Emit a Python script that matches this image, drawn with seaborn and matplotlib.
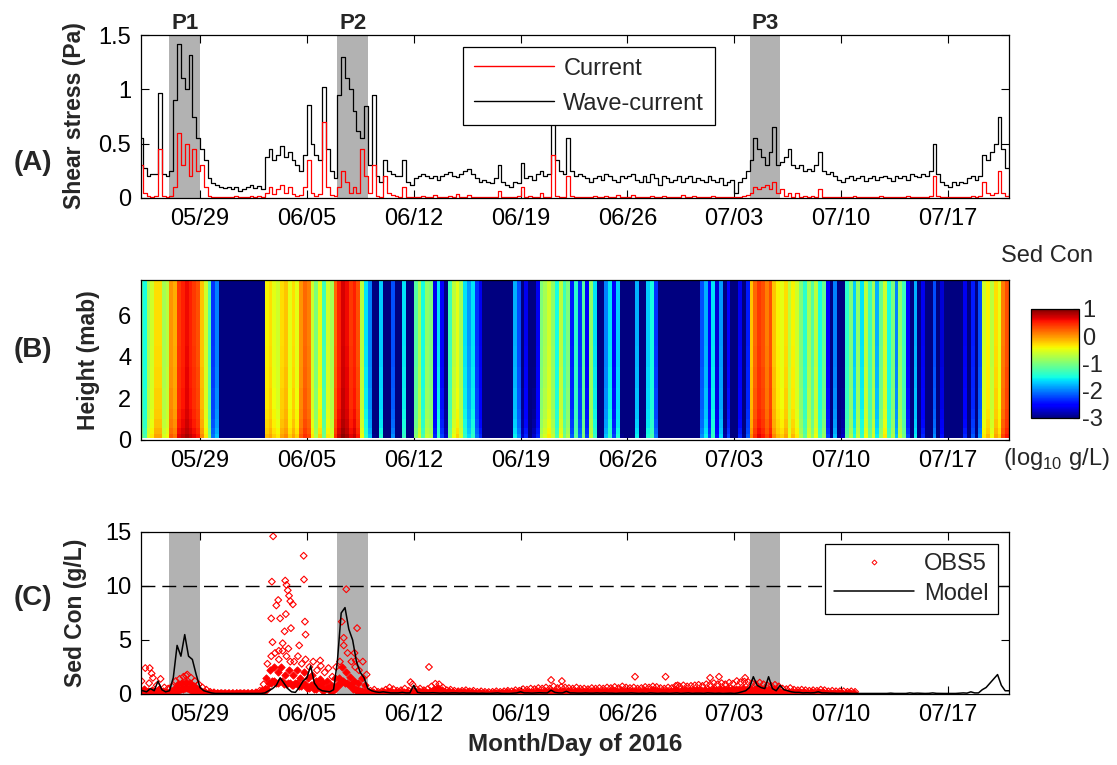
import numpy as np
import pandas as pd
import seaborn as sns
import matplotlib.pyplot as plt
import matplotlib.dates as mdates
from matplotlib.lines import Line2D

# ---------------- data ----------------
# all series are 6-hourly starting 2016-05-25 00:00 (4 values per day)
t_start = "2016-05-25 00:00"

# (A) bed shear stress, Pa
wave_current = [
    0.55, 0.28, 0.20, 0.22,  0.22, 0.97, 0.22, 0.20,   # 05/25 05/26
    0.25, 0.90, 1.42, 1.10,  1.00, 1.32, 0.75, 0.55,   # 05/27 05/28
    0.45, 0.35, 0.18, 0.14,  0.12, 0.10, 0.09, 0.10,   # 05/29 05/30
    0.08, 0.10, 0.06, 0.08,  0.10, 0.12, 0.09, 0.11,   # 05/31 06/01
    0.08, 0.38, 0.45, 0.35,  0.40, 0.48, 0.38, 0.42,   # 06/02 06/03
    0.35, 0.30, 0.25, 0.40,  0.86, 0.50, 0.40, 0.35,   # 06/04 06/05
    1.02, 0.45, 0.25, 0.18,  0.95, 1.30, 1.10, 1.00,   # 06/06 06/07
    0.80, 0.62, 0.55, 0.85,  0.30, 0.95, 0.20, 0.15,   # 06/08 06/09
    0.35, 0.25, 0.22, 0.20,  0.20, 0.35, 0.15, 0.12,   # 06/10 06/11
    0.18, 0.20, 0.22, 0.20,  0.18, 0.20, 0.17, 0.20,   # 06/12 06/13
    0.22, 0.24, 0.20, 0.19,  0.22, 0.25, 0.27, 0.22,   # 06/14 06/15
    0.18, 0.15, 0.17, 0.15,  0.14, 0.18, 0.30, 0.15,   # 06/16 06/17
    0.12, 0.10, 0.15, 0.14,  0.32, 0.18, 0.20, 0.17,   # 06/18 06/19
    0.22, 0.25, 0.20, 0.22,  0.70, 0.35, 0.25, 0.22,   # 06/20 06/21
    0.55, 0.25, 0.20, 0.22,  0.20, 0.18, 0.15, 0.18,   # 06/22 06/23
    0.20, 0.17, 0.22, 0.20,  0.17, 0.15, 0.20, 0.18,   # 06/24 06/25
    0.20, 0.22, 0.17, 0.15,  0.20, 0.15, 0.22, 0.18,   # 06/26 06/27
    0.12, 0.20, 0.18, 0.15,  0.17, 0.20, 0.15, 0.18,   # 06/28 06/29
    0.20, 0.15, 0.18, 0.17,  0.15, 0.20, 0.17, 0.15,   # 06/30 07/01
    0.18, 0.12, 0.15, 0.17,  0.05, 0.15, 0.18, 0.25,   # 07/02 07/03
    0.35, 0.55, 0.45, 0.38,  0.30, 0.42, 0.65, 0.30,   # 07/04 07/05
    0.33, 0.38, 0.45, 0.30,  0.28, 0.30, 0.25, 0.27,   # 07/06 07/07
    0.25, 0.30, 0.42, 0.25,  0.22, 0.24, 0.20, 0.17,   # 07/08 07/09
    0.15, 0.18, 0.20, 0.17,  0.18, 0.20, 0.16, 0.18,   # 07/10 07/11
    0.20, 0.17, 0.19, 0.20,  0.18, 0.16, 0.20, 0.18,   # 07/12 07/13
    0.20, 0.17, 0.22, 0.20,  0.19, 0.22, 0.20, 0.25,   # 07/14 07/15
    0.50, 0.22, 0.15, 0.12,  0.10, 0.15, 0.12, 0.15,   # 07/16 07/17
    0.14, 0.18, 0.20, 0.17,  0.20, 0.40, 0.35, 0.42,   # 07/18 07/19
    0.50, 0.75, 0.45, 0.28,  0.28,                     # 07/20 07/21
]
current = [
    0.30, 0.05, 0.02, 0.01,  0.02, 0.45, 0.02, 0.01,   # 05/25 05/26
    0.02, 0.10, 0.60, 0.30,  0.50, 0.20, 0.45, 0.25,   # 05/27 05/28
    0.30, 0.10, 0.02, 0.01,  0.01, 0.01, 0.01, 0.01,   # 05/29 05/30
    0.01, 0.02, 0.01, 0.01,  0.01, 0.02, 0.01, 0.02,   # 05/31 06/01
    0.01, 0.05, 0.10, 0.04,  0.08, 0.12, 0.05, 0.10,   # 06/02 06/03
    0.04, 0.02, 0.03, 0.10,  0.35, 0.05, 0.02, 0.04,   # 06/04 06/05
    0.70, 0.10, 0.03, 0.02,  0.10, 0.25, 0.15, 0.05,   # 06/06 06/07
    0.10, 0.05, 0.45, 0.20,  0.05, 0.30, 0.02, 0.01,   # 06/08 06/09
    0.20, 0.05, 0.03, 0.02,  0.01, 0.10, 0.01, 0.01,   # 06/10 06/11
    0.01, 0.01, 0.02, 0.01,  0.01, 0.03, 0.01, 0.01,   # 06/12 06/13
    0.01, 0.02, 0.01, 0.04,  0.01, 0.01, 0.03, 0.01,   # 06/14 06/15
    0.01, 0.01, 0.01, 0.01,  0.01, 0.01, 0.06, 0.01,   # 06/16 06/17
    0.01, 0.01, 0.01, 0.02,  0.10, 0.01, 0.02, 0.01,   # 06/18 06/19
    0.01, 0.05, 0.01, 0.01,  0.40, 0.02, 0.01, 0.01,   # 06/20 06/21
    0.20, 0.02, 0.01, 0.01,  0.01, 0.01, 0.01, 0.02,   # 06/22 06/23
    0.01, 0.01, 0.02, 0.01,  0.01, 0.03, 0.01, 0.01,   # 06/24 06/25
    0.01, 0.03, 0.01, 0.01,  0.01, 0.01, 0.02, 0.01,   # 06/26 06/27
    0.01, 0.02, 0.01, 0.01,  0.01, 0.01, 0.03, 0.01,   # 06/28 06/29
    0.01, 0.02, 0.01, 0.01,  0.01, 0.01, 0.02, 0.01,   # 06/30 07/01
    0.01, 0.01, 0.01, 0.01,  0.01, 0.01, 0.02, 0.03,   # 07/02 07/03
    0.05, 0.10, 0.08, 0.10,  0.12, 0.08, 0.15, 0.05,   # 07/04 07/05
    0.08, 0.02, 0.05, 0.01,  0.05, 0.01, 0.02, 0.01,   # 07/06 07/07
    0.02, 0.01, 0.08, 0.01,  0.01, 0.01, 0.01, 0.01,   # 07/08 07/09
    0.01, 0.01, 0.01, 0.02,  0.01, 0.01, 0.01, 0.01,   # 07/10 07/11
    0.01, 0.01, 0.02, 0.01,  0.01, 0.01, 0.01, 0.01,   # 07/12 07/13
    0.01, 0.02, 0.01, 0.01,  0.01, 0.01, 0.01, 0.02,   # 07/14 07/15
    0.20, 0.02, 0.01, 0.01,  0.01, 0.01, 0.01, 0.01,   # 07/16 07/17
    0.01, 0.01, 0.02, 0.01,  0.02, 0.15, 0.05, 0.03,   # 07/18 07/19
    0.05, 0.25, 0.05, 0.02,  0.05,                     # 07/20 07/21
]

# (B) log10 sediment concentration above the near-bed layer (one column per 6 h)
sed_log = [
    -1.2, -1.5, -0.8, -0.6,  -0.3, -0.3, -0.8, -0.7,   # 05/25 05/26
     0.0, -0.1,  0.4,  0.5,   0.6,  0.5,  0.4,  0.3,   # 05/27 05/28
    -0.2, -0.6, -1.2, -2.3,  -2.0, -3.5, -3.5, -3.5,   # 05/29 05/30
    -3.5, -3.5, -3.5, -3.5,  -3.5, -3.5, -3.5, -3.5,   # 05/31 06/01
    -3.5, -0.4, -0.3, -0.5,  -0.6, -0.3, -0.2, -0.5,   # 06/02 06/03
    -0.3, -0.5,  0.0,  0.2,   0.1, -0.6, -1.0, -0.5,   # 06/04 06/05
    -1.3, -0.6, -0.8,  0.2,   0.5,  0.7,  0.6,  0.4,   # 06/06 06/07
     0.5,  0.3, -0.7, -1.6,  -2.0, -3.2, -3.4, -1.7,   # 06/08 06/09
    -3.3, -3.3, -2.2, -3.3,  -3.3, -1.6, -3.3, -3.3,   # 06/10 06/11
    -1.2, -0.8, -1.5, -0.9,  -1.0, -2.6, -1.6, -2.5,   # 06/12 06/13
    -3.0, -1.3, -0.7, -0.5,  -0.8, -1.6, -1.9, -1.6,   # 06/14 06/15
    -2.3, -2.6, -3.3, -3.4,  -3.4, -3.4, -3.4, -3.4,   # 06/16 06/17
    -3.4, -3.4, -1.8, -2.2,  -3.0, -2.6, -3.3, -3.0,   # 06/18 06/19
    -2.6, -1.0, -0.8, -0.6,  -0.9, -1.5, -0.7, -1.3,   # 06/20 06/21
    -1.0, -2.4, -1.4, -2.3,  -1.2, -2.5, -0.9, -1.6,   # 06/22 06/23
    -3.3, -3.3, -2.0, -1.6,  -2.5, -1.7, -3.2, -3.3,   # 06/24 06/25
    -3.3, -3.3, -1.8, -3.3,  -3.2, -1.7, -1.5, -2.3,   # 06/26 06/27
    -3.4, -3.4, -3.4, -3.4,  -3.4, -3.4, -3.4, -3.4,   # 06/28 06/29
    -3.4, -3.4, -3.3, -2.2,  -1.8, -2.5, -1.6, -2.7,   # 06/30 07/01
    -1.9, -3.1, -2.5, -3.3,  -3.3, -2.6, -3.2, -2.4,   # 07/02 07/03
    -0.2,  0.2,  0.4,  0.3,   0.1,  0.3, -0.2, -0.4,   # 07/04 07/05
    -0.5, -0.3, -0.7, -0.4,  -0.6, -1.0, -1.4, -0.8,   # 07/06 07/07
    -1.2, -0.7, -1.5, -1.1,  -2.5, -3.2, -2.0, -3.2,   # 07/08 07/09
    -3.0, -1.4, -1.0, -1.7,  -0.9, -1.6, -0.7, -1.3,   # 07/10 07/11
    -0.8, -1.8, -1.1, -0.6,  -1.5, -1.0, -2.0, -0.9,   # 07/12 07/13
    -1.3, -2.5, -3.3, -1.8,  -3.3, -2.6, -3.3, -3.3,   # 07/14 07/15
    -2.2, -3.3, -2.7, -3.3,  -3.4, -3.4, -3.4, -3.3,   # 07/16 07/17
    -2.6, -3.3, -2.4, -3.2,  -2.2, -0.6, -0.4, -0.7,   # 07/18 07/19
    -0.3, -0.5,  0.1,  0.3,                            # 07/20
]
height_edges = [0.1, 0.3, 0.6, 1.0, 1.5, 2.5, 3.5, 4.5, 5.5, 6.5, 7.7]   # mab
near_bed_boost = [0.25, 0.18, 0.12, 0.08, 0.05, 0.03, 0.01, 0.0, 0.0, 0.0]

# (C) modelled concentration, g/L
model = [
    0.40, 0.30, 0.20, 0.50,  0.30, 1.20, 0.40, 0.20,   # 05/25 05/26
    0.30, 1.50, 4.50, 3.50,  5.50, 3.50, 3.20, 1.80,   # 05/27 05/28
    0.60, 0.30, 0.20, 0.10,  0.05, 0.05, 0.05, 0.05,   # 05/29 05/30
    0.05, 0.05, 0.05, 0.05,  0.05, 0.05, 0.05, 0.05,   # 05/31 06/01
    0.05, 0.10, 0.30, 0.50,  0.80, 1.50, 1.00, 0.50,   # 06/02 06/03
    0.20, 0.15, 0.60, 1.20,  1.50, 2.60, 1.00, 0.50,   # 06/04 06/05
    0.30, 0.25, 0.20, 0.40,  3.00, 7.50, 8.00, 6.00,   # 06/06 06/07
    5.00, 3.00, 2.00, 1.50,  0.50, 0.30, 0.20, 0.15,   # 06/08 06/09
    0.20, 0.15, 0.10, 0.10,  0.10, 0.15, 0.10, 0.10,   # 06/10 06/11
    0.80, 0.15, 0.10, 0.10,  0.10, 0.12, 0.10, 0.08,   # 06/12 06/13
    0.10, 0.08, 0.10, 0.10,  0.08, 0.10, 0.08, 0.08,   # 06/14 06/15
    0.08, 0.06, 0.08, 0.06,  0.06, 0.08, 0.10, 0.06,   # 06/16 06/17
    0.06, 0.05, 0.08, 0.10,  0.20, 0.10, 0.10, 0.08,   # 06/18 06/19
    0.10, 0.12, 0.10, 0.10,  0.35, 0.15, 0.10, 0.10,   # 06/20 06/21
    0.25, 0.10, 0.10, 0.08,  0.08, 0.10, 0.08, 0.08,   # 06/22 06/23
    0.10, 0.08, 0.10, 0.08,  0.08, 0.06, 0.08, 0.08,   # 06/24 06/25
    0.08, 0.10, 0.08, 0.06,  0.08, 0.06, 0.10, 0.08,   # 06/26 06/27
    0.06, 0.08, 0.08, 0.06,  0.08, 0.10, 0.06, 0.08,   # 06/28 06/29
    0.10, 0.06, 0.08, 0.08,  0.06, 0.10, 0.08, 0.06,   # 06/30 07/01
    0.08, 0.05, 0.06, 0.08,  0.05, 0.10, 0.20, 0.30,   # 07/02 07/03
    0.60, 1.60, 0.80, 0.60,  0.50, 1.60, 0.50, 0.30,   # 07/04 07/05
    0.80, 0.40, 0.30, 0.20,  0.15, 0.15, 0.10, 0.12,   # 07/06 07/07
    0.10, 0.12, 0.20, 0.10,  0.10, 0.08, 0.08, 0.06,   # 07/08 07/09
    0.06, 0.08, 0.06, 0.05,  0.05, 0.06, 0.05, 0.05,   # 07/10 07/11
    0.05, 0.05, 0.06, 0.05,  0.05, 0.08, 0.05, 0.05,   # 07/12 07/13
    0.06, 0.05, 0.10, 0.06,  0.08, 0.06, 0.05, 0.06,   # 07/14 07/15
    0.10, 0.06, 0.05, 0.05,  0.05, 0.06, 0.05, 0.08,   # 07/16 07/17
    0.10, 0.08, 0.20, 0.10,  0.10, 0.40, 0.60, 1.00,   # 07/18 07/19
    1.40, 1.80, 0.80, 0.30,  0.30,                     # 07/20 07/21
]

# (C) OBS5 observations: low / middle / high levels of the point cloud (05/25 - 07/10)
obs_lo = [
    0.10, 0.20, 0.15, 0.10,  0.10, 0.20, 0.10, 0.10,   # 05/25 05/26
    0.10, 0.20, 0.40, 0.50,  0.60, 0.50, 0.30, 0.20,   # 05/27 05/28
    0.10, 0.05, 0.05, 0.05,  0.02, 0.02, 0.02, 0.02,   # 05/29 05/30
    0.02, 0.02, 0.02, 0.02,  0.02, 0.02, 0.03, 0.05,   # 05/31 06/01
    0.10, 0.50, 1.00, 1.20,  1.00, 1.20, 0.90, 1.00,   # 06/02 06/03
    0.80, 1.00, 0.70, 0.90,  0.60, 0.80, 0.50, 0.70,   # 06/04 06/05
    0.40, 0.60, 0.30, 0.50,  0.80, 1.20, 1.00, 0.80,   # 06/06 06/07
    0.50, 0.40, 0.30, 0.20,  0.05, 0.05, 0.05, 0.05,   # 06/08 06/09
    0.05, 0.08, 0.05, 0.05,  0.05, 0.08, 0.05, 0.06,   # 06/10 06/11
    0.06, 0.08, 0.06, 0.05,  0.10, 0.20, 0.25, 0.15,   # 06/12 06/13
    0.06, 0.08, 0.06, 0.05,  0.05, 0.06, 0.05, 0.06,   # 06/14 06/15
    0.04, 0.05, 0.04, 0.04,  0.04, 0.05, 0.04, 0.05,   # 06/16 06/17
    0.05, 0.04, 0.06, 0.05,  0.06, 0.05, 0.08, 0.06,   # 06/18 06/19
    0.08, 0.06, 0.10, 0.08,  0.10, 0.08, 0.12, 0.10,   # 06/20 06/21
    0.10, 0.08, 0.10, 0.08,  0.10, 0.08, 0.10, 0.08,   # 06/22 06/23
    0.10, 0.08, 0.12, 0.10,  0.12, 0.10, 0.12, 0.10,   # 06/24 06/25
    0.10, 0.12, 0.10, 0.10,  0.12, 0.10, 0.14, 0.12,   # 06/26 06/27
    0.10, 0.08, 0.12, 0.10,  0.12, 0.10, 0.14, 0.12,   # 06/28 06/29
    0.12, 0.14, 0.15, 0.12,  0.15, 0.14, 0.16, 0.15,   # 06/30 07/01
    0.16, 0.15, 0.18, 0.16,  0.18, 0.16, 0.20, 0.18,   # 07/02 07/03
    0.20, 0.18, 0.22, 0.20,  0.16, 0.15, 0.18, 0.14,   # 07/04 07/05
    0.08, 0.06, 0.08, 0.06,  0.05, 0.06, 0.05, 0.04,   # 07/06 07/07
    0.05, 0.04, 0.06, 0.05,  0.04, 0.04, 0.04, 0.04,   # 07/08 07/09
    0.04, 0.03, 0.04, 0.03,                            # 07/10
]
obs_mid = [
    0.40, 0.50, 0.30, 0.40,  0.30, 0.50, 0.30, 0.20,   # 05/25 05/26
    0.30, 0.60, 0.90, 1.00,  1.10, 1.00, 0.70, 0.50,   # 05/27 05/28
    0.30, 0.20, 0.10, 0.10,  0.05, 0.05, 0.05, 0.05,   # 05/29 05/30
    0.05, 0.05, 0.05, 0.05,  0.05, 0.05, 0.08, 0.10,   # 05/31 06/01
    0.40, 1.50, 2.20, 2.50,  2.00, 2.50, 1.80, 2.20,   # 06/02 06/03
    1.80, 2.20, 1.50, 2.00,  1.50, 1.80, 1.20, 1.40,   # 06/04 06/05
    1.00, 1.20, 0.80, 1.50,  1.50, 2.50, 2.00, 1.60,   # 06/06 06/07
    1.20, 1.00, 1.50, 0.80,  0.10, 0.15, 0.10, 0.10,   # 06/08 06/09
    0.20, 0.25, 0.20, 0.15,  0.15, 0.20, 0.15, 0.20,   # 06/10 06/11
    0.20, 0.25, 0.20, 0.20,  0.30, 0.50, 0.60, 0.40,   # 06/12 06/13
    0.20, 0.25, 0.20, 0.15,  0.15, 0.20, 0.15, 0.20,   # 06/14 06/15
    0.10, 0.12, 0.10, 0.10,  0.10, 0.12, 0.10, 0.12,   # 06/16 06/17
    0.15, 0.12, 0.18, 0.15,  0.20, 0.18, 0.22, 0.20,   # 06/18 06/19
    0.25, 0.22, 0.28, 0.25,  0.30, 0.28, 0.32, 0.30,   # 06/20 06/21
    0.30, 0.25, 0.30, 0.28,  0.30, 0.25, 0.30, 0.28,   # 06/22 06/23
    0.30, 0.28, 0.32, 0.30,  0.35, 0.30, 0.38, 0.32,   # 06/24 06/25
    0.30, 0.32, 0.28, 0.30,  0.35, 0.32, 0.38, 0.35,   # 06/26 06/27
    0.30, 0.28, 0.32, 0.30,  0.35, 0.32, 0.38, 0.35,   # 06/28 06/29
    0.35, 0.38, 0.40, 0.35,  0.40, 0.38, 0.45, 0.40,   # 06/30 07/01
    0.45, 0.42, 0.48, 0.45,  0.50, 0.48, 0.52, 0.50,   # 07/02 07/03
    0.50, 0.45, 0.52, 0.48,  0.40, 0.38, 0.42, 0.35,   # 07/04 07/05
    0.20, 0.18, 0.22, 0.20,  0.15, 0.18, 0.15, 0.12,   # 07/06 07/07
    0.15, 0.12, 0.18, 0.15,  0.10, 0.12, 0.10, 0.10,   # 07/08 07/09
    0.10, 0.08, 0.10, 0.08,                            # 07/10
]
obs_hi = [
    1.20, 2.40, 1.00, 1.50,  0.80, 1.40, 0.60, 0.50,   # 05/25 05/26
    0.70, 1.20, 1.40, 1.60,  1.80, 1.50, 1.20, 0.90,   # 05/27 05/28
    0.60, 0.40, 0.20, 0.15,  0.08, 0.08, 0.08, 0.08,   # 05/29 05/30
    0.08, 0.08, 0.08, 0.08,  0.08, 0.10, 0.15, 0.30,   # 05/31 06/01
    0.90, 2.80, 3.50, 3.80,  3.20, 4.00, 3.50, 3.00,   # 06/02 06/03
    3.00, 3.50, 2.80, 3.20,  2.50, 3.00, 2.20, 2.60,   # 06/04 06/05
    2.00, 2.40, 1.60, 2.50,  3.00, 4.50, 3.80, 3.00,   # 06/06 06/07
    2.50, 2.20, 3.00, 1.80,  0.30, 0.40, 0.20, 0.25,   # 06/08 06/09
    0.40, 0.60, 0.45, 0.30,  0.35, 0.50, 0.30, 0.90,   # 06/10 06/11
    0.45, 0.50, 0.35, 0.45,  0.70, 0.95, 0.90, 0.60,   # 06/12 06/13
    0.35, 0.40, 0.30, 0.25,  0.30, 0.35, 0.25, 0.30,   # 06/14 06/15
    0.20, 0.25, 0.20, 0.18,  0.20, 0.25, 0.20, 0.25,   # 06/16 06/17
    0.30, 0.25, 0.35, 0.30,  0.45, 0.40, 0.50, 0.45,   # 06/18 06/19
    0.55, 0.50, 0.60, 0.50,  0.70, 0.55, 0.65, 0.60,   # 06/20 06/21
    0.55, 0.50, 0.60, 0.50,  0.50, 0.45, 0.55, 0.50,   # 06/22 06/23
    0.55, 0.50, 0.60, 0.55,  0.65, 0.55, 0.70, 0.60,   # 06/24 06/25
    0.55, 0.60, 0.50, 0.55,  0.65, 0.60, 0.70, 0.65,   # 06/26 06/27
    0.55, 0.50, 0.60, 0.55,  0.75, 0.70, 0.80, 0.70,   # 06/28 06/29
    0.75, 0.80, 0.85, 0.75,  0.90, 0.85, 1.00, 0.90,   # 06/30 07/01
    1.00, 0.90, 1.05, 0.95,  1.20, 1.10, 1.15, 1.10,   # 07/02 07/03
    1.00, 0.90, 1.05, 0.90,  0.80, 0.75, 0.85, 0.70,   # 07/04 07/05
    0.50, 0.45, 0.55, 0.40,  0.35, 0.40, 0.35, 0.30,   # 07/06 07/07
    0.35, 0.30, 0.40, 0.35,  0.25, 0.30, 0.25, 0.25,   # 07/08 07/09
    0.25, 0.20, 0.25, 0.20,                            # 07/10
]
# isolated high OBS5 readings
obs_peak_time = [
    "2016-05-25 17:00", "2016-05-25 20:00", "2016-05-28 02:00",
    "2016-06-02 19:00", "2016-06-02 17:00", "2016-06-03 14:00", "2016-06-03 16:00",
    "2016-06-03 18:00", "2016-06-03 20:00", "2016-06-03 22:00", "2016-06-04 02:00",
    "2016-06-04 19:00", "2016-06-04 19:30", "2016-06-03 03:00", "2016-06-03 00:00",
    "2016-06-02 16:00", "2016-06-03 06:00", "2016-06-03 15:00", "2016-06-03 13:00",
    "2016-06-03 23:00", "2016-06-04 21:00", "2016-06-04 22:00", "2016-06-02 18:00",
    "2016-06-03 10:00", "2016-06-04 12:00", "2016-06-03 04:00", "2016-06-03 19:00",
    "2016-06-05 21:00", "2016-06-07 14:00", "2016-06-08 07:00", "2016-06-07 07:00",
    "2016-06-08 03:00", "2016-06-08 05:00", "2016-06-07 10:00", "2016-06-13 00:00",
    "2016-06-11 19:00", "2016-06-21 00:00", "2016-06-21 17:00", "2016-06-26 12:00",
    "2016-06-28 12:00", "2016-06-29 07:00", "2016-07-01 10:00", "2016-07-02 00:00",
    "2016-07-03 17:00",
]
obs_peak_val = [
    2.4, 1.9, 1.7,
    14.6, 10.4, 10.5, 10.1,
    9.6, 9.1, 8.6, 8.3,
    12.8, 10.6, 8.7, 8.2,
    7.0, 7.0, 7.4, 5.8,
    6.1, 6.7, 5.5, 4.8,
    4.7, 4.5, 4.0, 4.2,
    3.1, 9.7, 6.1, 6.7,
    3.8, 3.1, 5.2, 2.5,
    1.1, 1.3, 1.2, 1.6,
    1.6, 0.8, 1.5, 1.6,
    1.5,
]

event_names = ["P1", "P2", "P3"]
event_start = ["2016-05-27", "2016-06-07", "2016-07-04"]
event_end = ["2016-05-29", "2016-06-09", "2016-07-06"]
tick_dates = ["2016-05-29", "2016-06-05", "2016-06-12", "2016-06-19",
              "2016-06-26", "2016-07-03", "2016-07-10", "2016-07-17"]
x_from, x_to = "2016-05-25 03:15", "2016-07-21 00:00"

# ---------------- figure ----------------
sns.set_theme(style="ticks")
plt.rcParams['font.family'] = ['Liberation Sans', 'DejaVu Sans']
plt.rcParams['mathtext.fontset'] = 'custom'
plt.rcParams['mathtext.rm'] = 'Liberation Sans'
plt.rcParams['axes.unicode_minus'] = False

W, H = 1117, 765
fig = plt.figure(figsize=(W / 100, H / 100), dpi=100)


def box(l, t, r, b):
    return [l / W, 1 - b / H, (r - l) / W, (b - t) / H]


ax_a = fig.add_axes(box(141, 35, 1009, 198))
ax_b = fig.add_axes(box(141, 280, 1009, 440))
ax_c = fig.add_axes(box(141, 532, 1009, 694))
cax = fig.add_axes(box(1031, 309, 1079, 418))

times = pd.date_range(t_start, periods=len(wave_current), freq="6h")
tnum = mdates.date2num(times)
band_color = "#b2b2b2"

# (A) shear stress
for s, e in zip(event_start, event_end):
    ax_a.axvspan(mdates.date2num(pd.Timestamp(s)), mdates.date2num(pd.Timestamp(e)),
                 color=band_color, lw=0, zorder=0)
sns.lineplot(x=tnum, y=wave_current, ax=ax_a, color="black", lw=0.9,
             drawstyle="steps-post", estimator=None)
sns.lineplot(x=tnum, y=current, ax=ax_a, color="#ff0000", lw=0.9,
             drawstyle="steps-post", estimator=None)
ax_a.set_ylim(0, 1.5)
ax_a.set_yticks([0, 0.5, 1, 1.5])
ax_a.set_yticklabels(["0", "0.5", "1", "1.5"])
for name, s, e in zip(event_names, event_start, event_end):
    mid = pd.Timestamp(s) + (pd.Timestamp(e) - pd.Timestamp(s)) / 2
    ax_a.text(mdates.date2num(mid), 1.005, name, transform=ax_a.get_xaxis_transform(),
              ha="center", va="bottom", fontsize=16, fontweight="bold")
leg_a = ax_a.legend(
    handles=[Line2D([], [], color="#ff0000", lw=1), Line2D([], [], color="black", lw=1)],
    labels=["Current", "Wave-current"], loc="upper left",
    bbox_to_anchor=((463 - 141) / 868, (198 - 47) / 163), fontsize=17,
    handlelength=3.4, handletextpad=0.4, labelspacing=0.55, borderpad=0.45,
    borderaxespad=0, frameon=True, fancybox=False, edgecolor="black", framealpha=1)
leg_a.get_frame().set_linewidth(0.9)

# (B) concentration profile
grid = np.array(near_bed_boost)[:, None] + np.array(sed_log)[None, :]
mesh = ax_b.pcolormesh(tnum, height_edges, grid, cmap="jet", vmin=-3, vmax=1,
                       shading="flat", rasterized=True)
ax_b.set_ylim(0, 7.7)
ax_b.set_yticks([0, 2, 4, 6])
cb = fig.colorbar(mesh, cax=cax, ticks=[1, 0, -1, -2, -3])
cb.outline.set_linewidth(0.9)
cb.outline.set_edgecolor("black")
cax.tick_params(direction="in", length=4, width=0.8, labelsize=17, pad=2, right=True)
fig.text(1047 / W, 1 - 256 / H, "Sed Con", ha="center", va="center", fontsize=17)
fig.text(1056 / W, 1 - 459 / H, "(log$_{10}$ g/L)", ha="center", va="center", fontsize=17)

# (C) suspended sediment concentration
for s, e in zip(event_start, event_end):
    ax_c.axvspan(mdates.date2num(pd.Timestamp(s)), mdates.date2num(pd.Timestamp(e)),
                 color=band_color, lw=0, zorder=0)
ax_c.axhline(10, color="black", lw=1.0, dashes=(10, 5), zorder=1)
n_obs = len(obs_mid)
solid_kw = dict(marker="D", s=14, color="#ff0000", edgecolor="#ff0000",
                linewidth=0.6, zorder=2)
hollow_kw = dict(marker="D", s=12, facecolor="none", edgecolor="#ff0000",
                 linewidth=0.8, color="#ff0000", zorder=2)
sns.scatterplot(x=tnum[:n_obs], y=obs_lo, ax=ax_c, **solid_kw)
sns.scatterplot(x=tnum[:n_obs] + 3 / 24, y=obs_lo, ax=ax_c, **solid_kw)
sns.scatterplot(x=tnum[:n_obs] + 2 / 24, y=obs_mid, ax=ax_c, **solid_kw)
sns.scatterplot(x=tnum[:n_obs] + 4 / 24, y=obs_hi, ax=ax_c, **hollow_kw)
sns.scatterplot(x=mdates.date2num(pd.to_datetime(obs_peak_time)), y=obs_peak_val,
                ax=ax_c, **hollow_kw)
sns.lineplot(x=tnum, y=model, ax=ax_c, color="black", lw=1.1, estimator=None, zorder=3)
ax_c.set_ylim(0, 15)
ax_c.set_yticks([0, 5, 10, 15])
leg_c = ax_c.legend(
    handles=[Line2D([], [], ls="none", marker="D", ms=2.5, mfc="none", mec="#ff0000", mew=0.7),
             Line2D([], [], color="black", lw=1.1)],
    labels=["OBS5", "Model"], loc="upper right",
    bbox_to_anchor=((998 - 141) / 868, (694 - 544) / 162), fontsize=17,
    handlelength=3.4, handletextpad=0.4, labelspacing=0.3, borderpad=0.4,
    borderaxespad=0, frameon=True, fancybox=False, edgecolor="black", framealpha=1)
leg_c.get_frame().set_linewidth(0.9)
leg_c.set_zorder(5)

# shared axis styling (MATLAB-like boxed axes, inward ticks)
for ax in (ax_a, ax_b, ax_c):
    ax.set_xlim(mdates.date2num(pd.Timestamp(x_from)), mdates.date2num(pd.Timestamp(x_to)))
    ax.set_xticks(mdates.date2num(pd.to_datetime(tick_dates)))
    ax.xaxis.set_major_formatter(mdates.DateFormatter("%m/%d"))
    ax.set_xlabel("")
    ax.set_ylabel("")
    ax.tick_params(direction="in", top=True, right=True, length=6, width=0.8,
                   labelsize=17, colors="black")
    ax.tick_params(axis="x", pad=7)
    ax.tick_params(axis="y", pad=7)
    for sp in ax.spines.values():
        sp.set_visible(True)
        sp.set_color("black")
        sp.set_linewidth(0.9)
ax_b.tick_params(length=3)

# labels
fig.text(74 / W, 1 - 116 / H, "Shear stress (Pa)", rotation=90, ha="center", va="center",
         fontsize=16.5, fontweight="bold")
fig.text(89 / W, 1 - 360 / H, "Height (mab)", rotation=90, ha="center", va="center",
         fontsize=16.5, fontweight="bold")
fig.text(76 / W, 1 - 613 / H, "Sed Con (g/L)", rotation=90, ha="center", va="center",
         fontsize=16.5, fontweight="bold")
for lbl, y in zip(["(A)", "(B)", "(C)"], [163, 350, 598]):
    fig.text(33 / W, 1 - y / H, lbl, ha="center", va="center", fontsize=20, fontweight="bold")
fig.text(575 / W, 1 - 745 / H, "Month/Day of 2016", ha="center", va="center",
         fontsize=17.5, fontweight="bold")

fig.savefig("out.png", dpi=100)
